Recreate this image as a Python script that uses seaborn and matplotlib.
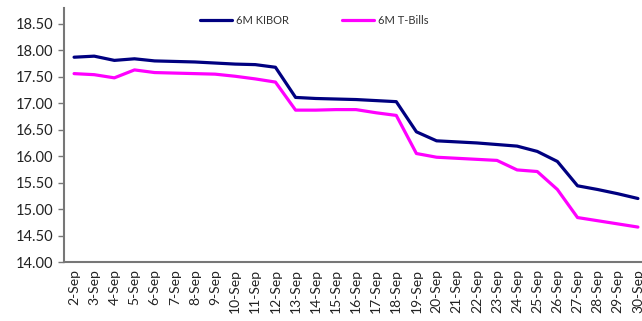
import pandas as pd
import numpy as np
import matplotlib
matplotlib.use('Agg')
import matplotlib.pyplot as plt
import seaborn as sb

days = ['2-Sep', '3-Sep', '4-Sep', '5-Sep', '6-Sep', '7-Sep', '8-Sep', '9-Sep', '10-Sep',
        '11-Sep', '12-Sep', '13-Sep', '14-Sep', '15-Sep', '16-Sep', '17-Sep', '18-Sep',
        '19-Sep', '20-Sep', '21-Sep', '22-Sep', '23-Sep', '24-Sep', '25-Sep', '26-Sep',
        '27-Sep', '28-Sep', '29-Sep', '30-Sep']
kibor = [17.87, 17.89, 17.81, 17.84, 17.80, 17.79, 17.78, 17.76, 17.74, 17.73, 17.68,
         17.11, 17.09, 17.08, 17.07, 17.05, 17.03, 16.46, 16.29, 16.27, 16.25, 16.22,
         16.19, 16.09, 15.90, 15.44, 15.37, 15.29, 15.20]
tbills = [17.56, 17.54, 17.48, 17.63, 17.58, 17.57, 17.56, 17.55, 17.51, 17.46, 17.40,
          16.87, 16.87, 16.88, 16.88, 16.82, 16.77, 16.05, 15.98, 15.96, 15.94, 15.92,
          15.74, 15.71, 15.37, 14.84, 14.78, 14.72, 14.66]
y_ticks = [14.0, 14.5, 15.0, 15.5, 16.0, 16.5, 17.0, 17.5, 18.0, 18.5]

df = pd.DataFrame({'Date': days * 2,
                   'Rate': kibor + tbills,
                   'Series': ['6M KIBOR'] * len(days) + ['6M T-Bills'] * len(days)})

sb.set_style('white')
plt.rcParams['font.family'] = ['Lato', 'DejaVu Sans']

fig = plt.figure(figsize=(6.42, 3.21), dpi=100)
ax = fig.add_axes([64 / 642, (321 - 262) / 321, (648 - 64) / 642, (262 - 8) / 321])
sb.lineplot(data=df, x='Date', y='Rate', hue='Series', sort=False,
            palette={'6M KIBOR': '#000080', '6M T-Bills': '#FF00FF'},
            linewidth=2.3, ax=ax)

ax.set_xlim(-0.5, len(days) - 0.5)
ax.set_ylim(14.0, 18.8)
ax.set_yticks(y_ticks)
ax.set_yticklabels([f'{v:.2f}' for v in y_ticks], fontsize=10.5, color='#222222')
ax.set_xticks(range(len(days)))
ax.set_xticklabels(days, rotation=90, fontsize=10, color='#222222')
ax.set_xticks(np.arange(-0.5, len(days), 1), minor=True)
ax.tick_params(axis='x', which='major', length=0, pad=5)
ax.tick_params(axis='x', which='minor', length=4, width=1, color='#777777', direction='out')
ax.tick_params(axis='y', length=4, width=1, color='#777777', direction='out', left=True)
ax.set_xlabel('')
ax.set_ylabel('')
for s in ['top', 'right']:
    ax.spines[s].set_visible(False)
for s in ['left', 'bottom']:
    ax.spines[s].set_color('#777777')
    ax.spines[s].set_linewidth(1.5)

leg = ax.legend(loc='center', bbox_to_anchor=(314 / 642, 1 - 20 / 321), bbox_transform=fig.transFigure,
                ncol=2, frameon=False, fontsize=8, handlelength=2.9, handletextpad=0.35,
                columnspacing=4.8)
for t in leg.get_texts():
    t.set_color('#333333')

plt.savefig('out.png', dpi=100)
